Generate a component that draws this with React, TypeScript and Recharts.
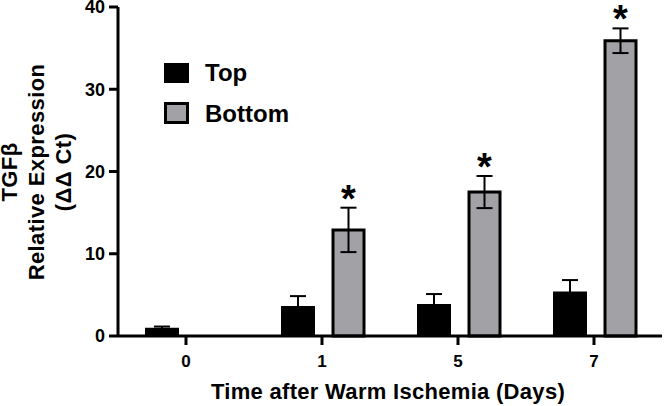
import React from "react";
import { BarChart, Bar, XAxis, YAxis, ErrorBar, LabelList, Legend } from "recharts";

const FONT = "'Liberation Sans', Arial, Helvetica, sans-serif";

const days = ["0", "1", "5", "7"];
const topValues = [1.0, 3.65, 3.9, 5.4];
const topErrors = [0.15, 1.2, 1.2, 1.4];
const bottomValues = [null, 12.9, 17.5, 35.9];
const bottomErrors = [null, 2.7, 1.95, 1.5];
const significant = [false, true, true, true];
const yTicks = [0, 10, 20, 30, 40];

const seriesNames = ["Top", "Bottom"];
const seriesFill = ["#000000", "#a1a1a6"];

const data = days.map((day, i) => ({
  day,
  top: topValues[i],
  topErr: topErrors[i],
  bottom: bottomValues[i],
  bottomErr: bottomErrors[i],
}));

const renderStar = (props: any) => {
  const { value } = props;
  if (value == null) return null;
  // null entries may be skipped by LabelList, so look the category up by value
  const i = bottomValues.indexOf(Number(value));
  if (i < 0 || !significant[i]) return null;
  const x = Number(props.x);
  const y = Number(props.y);
  const w = Number(props.width);
  const h = Number(props.height);
  const err = bottomErrors[i] ?? 0;
  const errTop = y - (err * h) / Number(value);
  return (
    <text
      x={x + w / 2}
      y={errTop + 4}
      textAnchor="middle"
      fontSize={38}
      fontWeight="bold"
      fontFamily={FONT}
      fill="#000"
    >
      *
    </text>
  );
};

const renderLegend = () => (
  <div
    style={{
      position: "relative",
      width: 150,
      height: 70,
      fontFamily: FONT,
      fontWeight: "bold",
      fontSize: 24,
      lineHeight: "24px",
      color: "#000",
    }}
  >
    {seriesNames.map((name, i) => (
      <React.Fragment key={name}>
        <div
          style={{
            position: "absolute",
            left: 0,
            top: i * 39 + 1,
            width: i === 0 ? 25 : 19,
            height: i === 0 ? 20 : 16,
            background: seriesFill[i],
            border: i === 0 ? "none" : "3px solid #000",
          }}
        />
        <div style={{ position: "absolute", left: 41, top: i * 41 - 1 }}>{name}</div>
      </React.Fragment>
    ))}
  </div>
);

const YTitle = () => (
  <text
    transform="rotate(-90)"
    textAnchor="middle"
    fontSize={22}
    fontWeight="bold"
    fontFamily={FONT}
    letterSpacing={0.4}
    fill="#000"
  >
    <tspan x={-172} y={17}>TGFβ</tspan>
    <tspan x={-172} y={44}>Relative Expression</tspan>
    <tspan x={-172} y={71}>(ΔΔ Ct)</tspan>
  </text>
);

const XTitle = (props: any) => {
  const vb = props.viewBox || {};
  return (
    <text
      x={vb.x + vb.width / 2 - 2}
      y={399}
      textAnchor="middle"
      fontSize={22}
      fontWeight="bold"
      fontFamily={FONT}
      letterSpacing={0.3}
      fill="#000"
    >
      Time after Warm Ischemia (Days)
    </text>
  );
};

export default function App() {
  return (
    <div style={{ position: "absolute", left: 0, top: 0, background: "#fff" }}>
      <BarChart
        width={665}
        height={406}
        data={data}
        margin={{ top: 7, right: 3, left: 0, bottom: 0 }}
        barGap={18}
      >
        <XAxis
          dataKey="day"
          height={70}
          axisLine={{ stroke: "#000", strokeWidth: 3 }}
          tickLine={{ stroke: "#000", strokeWidth: 3 }}
          tickSize={9}
          tickMargin={10}
          tick={{ fill: "#000", fontSize: 17, fontWeight: "bold", fontFamily: FONT }}
          label={<XTitle />}
        />
        <YAxis
          width={118}
          domain={[0, 40]}
          ticks={yTicks}
          interval={0}
          axisLine={{ stroke: "#000", strokeWidth: 3 }}
          tickLine={{ stroke: "#000", strokeWidth: 3 }}
          tickSize={9}
          tickMargin={4}
          tick={{ fill: "#000", fontSize: 18, fontWeight: "bold", fontFamily: FONT }}
          label={<YTitle />}
        />
        <Legend
          layout="vertical"
          align="center"
          verticalAlign="middle"
          content={renderLegend}
          wrapperStyle={{ left: 164, top: 62, width: 150, height: 70 }}
        />
        <Bar dataKey="top" name="Top" fill={seriesFill[0]} barSize={34} isAnimationActive={false}>
          <ErrorBar dataKey="topErr" width={8} stroke="#000" strokeWidth={2} />
        </Bar>
        <Bar
          dataKey="bottom"
          name="Bottom"
          fill={seriesFill[1]}
          stroke="#000"
          strokeWidth={3}
          barSize={31}
          isAnimationActive={false}
        >
          <ErrorBar dataKey="bottomErr" width={8} stroke="#000" strokeWidth={2} />
          <LabelList dataKey="bottom" content={renderStar} />
        </Bar>
      </BarChart>
    </div>
  );
}
